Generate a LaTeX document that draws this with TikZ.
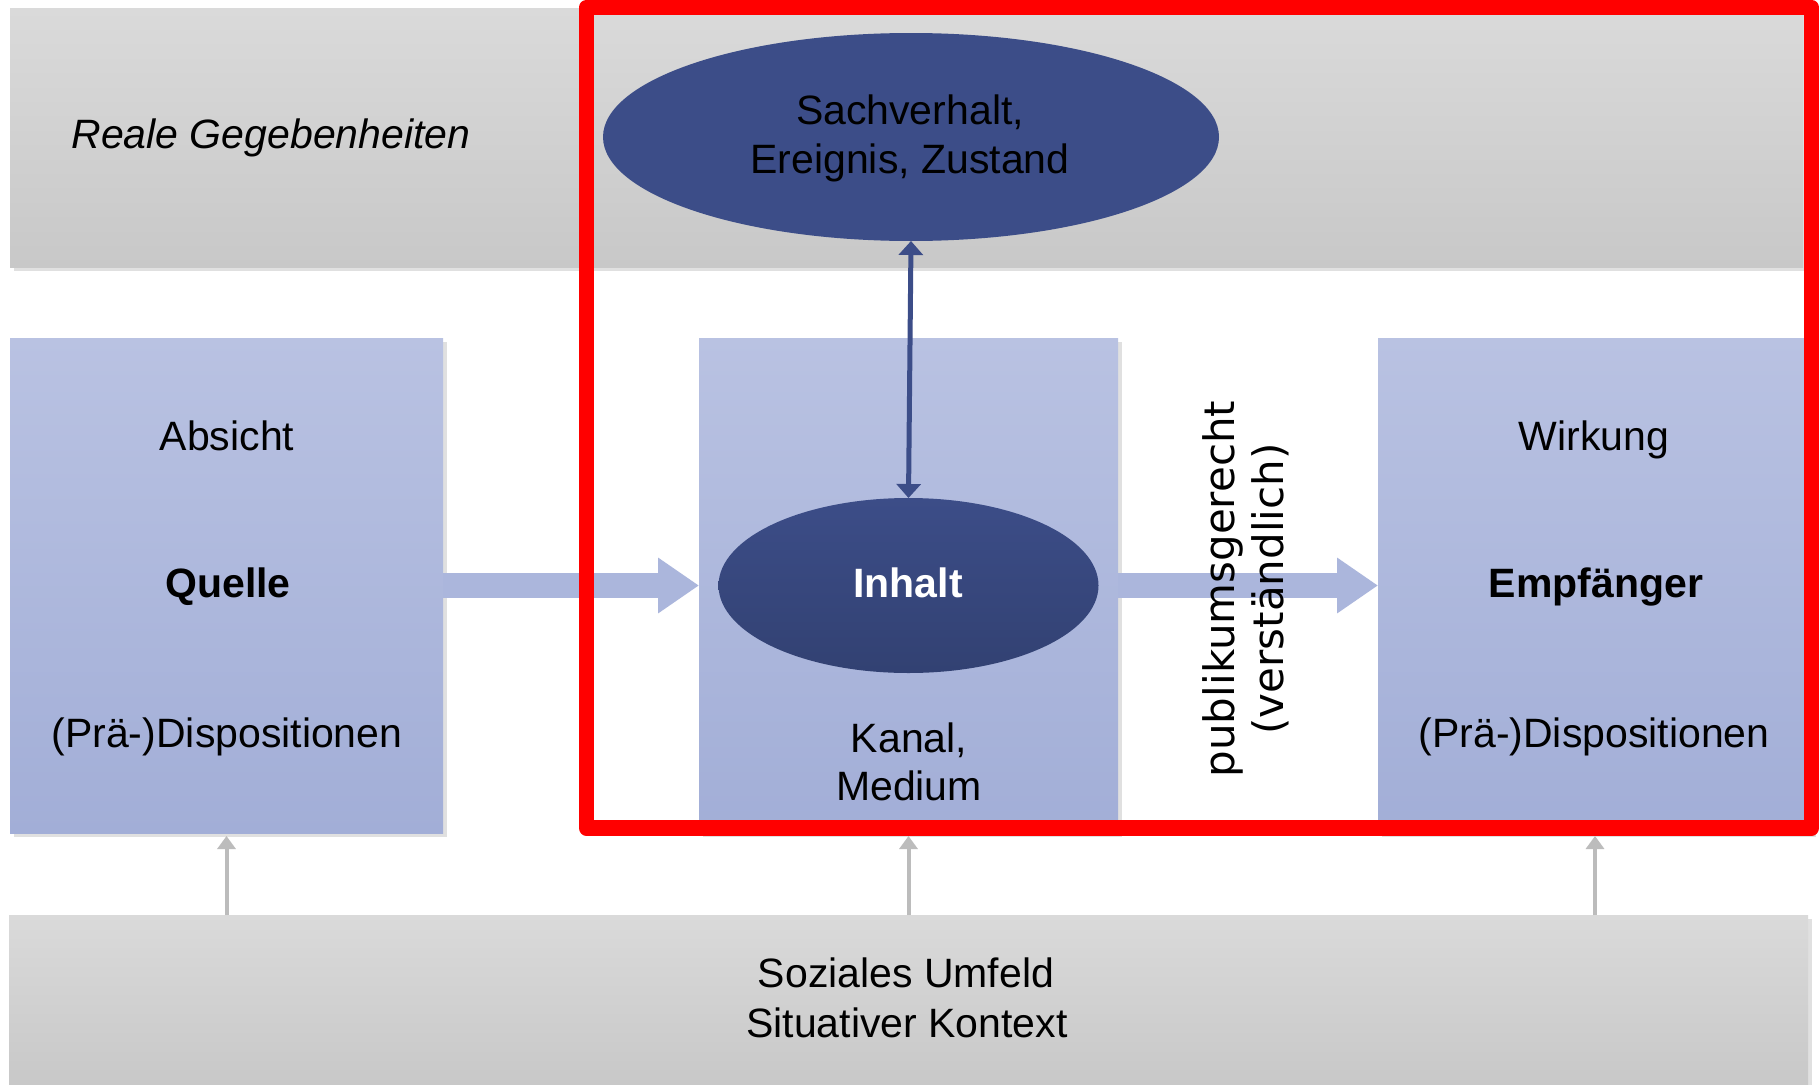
\documentclass[tikz,border=0pt]{standalone}
\usepackage{fontspec}
\setmainfont{Liberation Sans}
\newfontfamily\dejavu{DejaVu Sans}
\usetikzlibrary{arrows.meta,backgrounds,shapes.geometric}

\definecolor{bandtop}{RGB}{218,218,218}
\definecolor{bandbot}{RGB}{200,200,200}
\definecolor{boxtop}{RGB}{185,194,226}
\definecolor{boxbot}{RGB}{162,174,215}
\definecolor{navy}{RGB}{60,77,136}
\definecolor{navydark}{RGB}{50,65,114}
\definecolor{flow}{RGB}{171,182,220}
\definecolor{ctxgray}{RGB}{188,188,188}
\definecolor{shadowc}{RGB}{224,224,224}

\tikzset{
  panel/.style={rectangle, anchor=north west, inner sep=0pt, outer sep=0pt},
  band/.style={panel, top color=bandtop, bottom color=bandbot},
  actor/.style={panel, top color=boxtop, bottom color=boxbot},
  txt/.style={inner sep=0pt, anchor=base, font=\fontsize{41}{49}\selectfont},
  txtb/.style={txt, font=\fontsize{41}{49}\selectfont\bfseries},
  txti/.style={txt, font=\fontsize{41}{49}\selectfont\itshape},
  blob/.style={ellipse, inner sep=0pt, outer sep=0pt},
  flowarrow/.style={draw=flow, line width=25pt,
    -{Triangle[width=53pt,length=41pt]}},
  ctxarrow/.style={draw=ctxgray, line width=4pt, shorten >=3pt,
    -{Triangle[width=18pt,length=13pt]}},
  linkarrow/.style={draw=navy, line width=5pt,
    {Triangle[width=24pt,length=14pt]}-{Triangle[width=24pt,length=14pt]}},
  focusframe/.style={draw=red, line width=15.5pt, line join=round},
}

\begin{document}
\begin{tikzpicture}[x=1pt,y=-1pt]
\useasboundingbox (0,0) rectangle (1820,1084);

% grey layers: real facts on top, social context at the bottom
\node[band, minimum width=1793pt, minimum height=259pt] (real) at (10,8) {};
\node[band, minimum width=1799pt, minimum height=169pt] (ctx) at (9,915) {};

% the three actor columns
\node[actor, minimum width=433pt, minimum height=495pt] (q) at (10,338) {};
\node[actor, minimum width=419pt, minimum height=495pt] (k) at (699,338) {};
\node[actor, minimum width=434pt, minimum height=495pt] (e) at (1378,338) {};

% shadows and white ground
\begin{pgfonlayer}{background}
  \fill[white] (0,0) rectangle (1820,1084);
  \foreach \n in {real,ctx,q,k,e}
    \fill[shadowc] ([shift={(4,4)}]\n.north west) rectangle ([shift={(4,4)}]\n.south east);
\end{pgfonlayer}

% flow of the message
\draw[flowarrow] (q.east) -- (k.west);
\draw[flowarrow] (k.east) -- (e.west);

% context influences
\draw[ctxarrow] (q.south |- ctx.north) -- (q.south);
\draw[ctxarrow] (k.south |- ctx.north) -- (k.south);
\draw[ctxarrow] (e.south |- ctx.north) -- (e.south);

% ellipses
\node[blob, fill=navy, minimum width=616pt, minimum height=208pt] (sach) at (911,137) {};
\node[blob, top color=navy, bottom color=navydark, minimum width=380pt,
  minimum height=175pt] (inh) at (908.5,585.5) {};
\draw[linkarrow] (sach.south) -- (inh.north);

% labels
\node[txt]  (sach1) at (910,124) {Sachverhalt,};
\node[txt]  (sach2) at (910,173) {Ereignis, Zustand};
\node[txtb, text=white] (inhalt) at (908,597) {Inhalt};
\node[txti] (reale) at (271,148) {Reale Gegebenheiten};
\node[txt]  (absicht) at (227,450) {Absicht};
\node[txtb] (quelle) at (228,597) {Quelle};
\node[txt]  (qdisp) at (227,747) {(Prä-)Dispositionen};
\node[txt]  (kanal) at (909,752) {Kanal,};
\node[txt]  (medium) at (909,800) {Medium};
\node[txt]  (wirkung) at (1594,450) {Wirkung};
\node[txtb] (empf) at (1596,597) {Empfänger};
\node[txt]  (edisp) at (1594,747) {(Prä-)Dispositionen};
\node[txt]  (sozial) at (906,987) {Soziales Umfeld};
\node[txt]  (situativ) at (907,1037) {Situativer Kontext};
\node[rotate=90, inner sep=0pt, align=center,
  font=\dejavu\fontsize{42}{49}\selectfont] (pub) at (1246,589)
  {publikumsgerecht\\(verständlich)};

% highlighted region
\draw[focusframe] (586.5,7.5) rectangle (1811.5,828);
\end{tikzpicture}
\end{document}
